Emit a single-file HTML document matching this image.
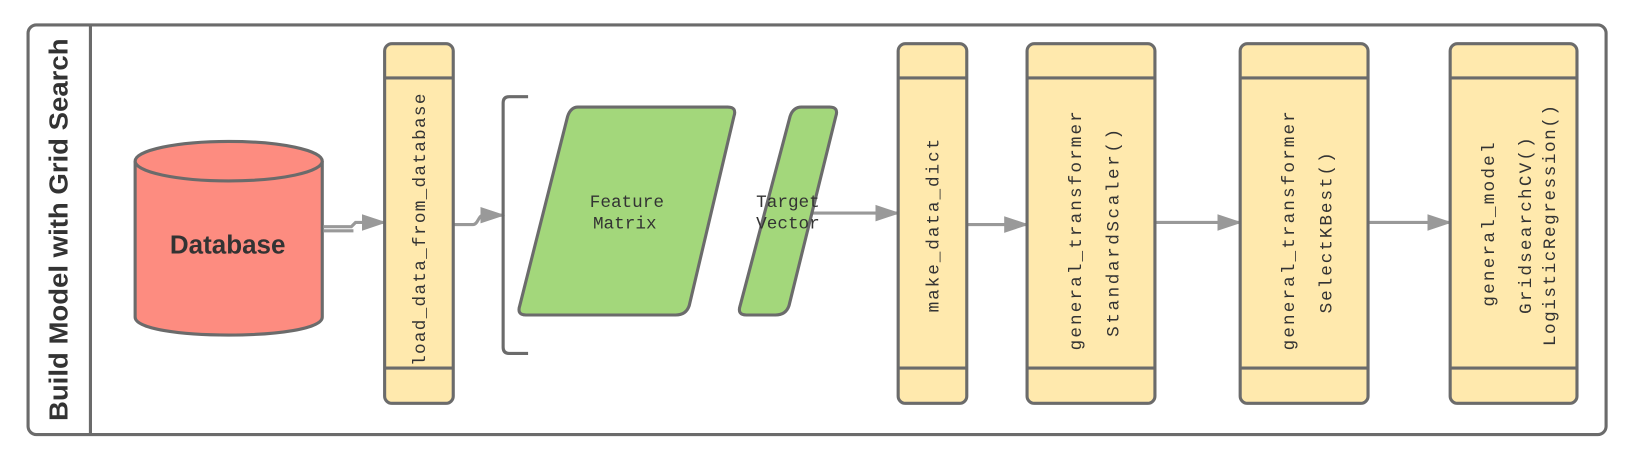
<!DOCTYPE html>
<html><head><meta charset="utf-8"><style>
html,body{margin:0;padding:0;background:#fff;}
svg{display:block;}
</style></head><body>
<svg width="1630" height="462" viewBox="0 0 1568 444.4" preserveAspectRatio="none" xmlns="http://www.w3.org/2000/svg">
<defs>
<marker id="ah" markerWidth="24" markerHeight="18" refX="22" refY="9" orient="auto" markerUnits="userSpaceOnUse">
<path d="M0,1 L24,9 L0,17 Z" fill="#999"/>
</marker>
</defs>
<g stroke="#6b6b6b" stroke-width="3" fill="none">
<rect x="27" y="24" width="1518" height="394" rx="8" fill="#fff"/>
<line x1="87" y1="24" x2="87" y2="418"/>
</g>
<text transform="translate(65,221) rotate(-90)" text-anchor="middle" font-family="Liberation Sans, sans-serif" font-weight="bold" font-size="25" fill="#333" textLength="368" lengthAdjust="spacingAndGlyphs">Build Model with Grid Search</text>

<!-- Database -->
<path d="M130,155 L130,305 C130,328 310,328 310,305 L310,155" fill="#fd8c80" stroke="#6b6b6b" stroke-width="3"/>
<ellipse cx="220" cy="155" rx="90" ry="19" fill="#fd8c80" stroke="#6b6b6b" stroke-width="3"/>
<text x="219" y="244" text-anchor="middle" font-family="Liberation Sans, sans-serif" font-weight="bold" font-size="25" fill="#333">Database</text>

<!-- arrows -->
<g stroke="#999" stroke-width="3" fill="none">
<path d="M311,218 L338,218 L342,214 L370,214" marker-end="url(#ah)"/>
<path d="M311,222 L340,222"/>
<path d="M437,216 L455,216 C460,216 460,207 465,207 L484,207" marker-end="url(#ah)"/>
<path d="M780,205 L864,205" marker-end="url(#ah)"/>
<path d="M931,216 L988,216" marker-end="url(#ah)"/>
<path d="M1112,214 L1193,214" marker-end="url(#ah)"/>
<path d="M1317,214 L1395,214" marker-end="url(#ah)"/>
</g>

<!-- boxes -->
<g stroke="#6b6b6b" stroke-width="3" fill="#ffe9ad">
<rect x="370" y="42" width="66" height="346" rx="7"/>
<line x1="370" y1="75" x2="436" y2="75"/><line x1="370" y1="354" x2="436" y2="354"/>
<rect x="864" y="42" width="66" height="346" rx="7"/>
<line x1="864" y1="75" x2="930" y2="75"/><line x1="864" y1="354" x2="930" y2="354"/>
<rect x="988" y="42" width="123" height="346" rx="7"/>
<line x1="988" y1="75" x2="1111" y2="75"/><line x1="988" y1="354" x2="1111" y2="354"/>
<rect x="1193" y="42" width="123" height="346" rx="7"/>
<line x1="1193" y1="75" x2="1316" y2="75"/><line x1="1193" y1="354" x2="1316" y2="354"/>
<rect x="1395" y="42" width="122" height="346" rx="7"/>
<line x1="1395" y1="75" x2="1517" y2="75"/><line x1="1395" y1="354" x2="1517" y2="354"/>
</g>

<!-- bracket -->
<path d="M508,93 L490,93 Q484,93 484,99 L484,334 Q484,340 490,340 L508,340" fill="none" stroke="#6b6b6b" stroke-width="3"/>

<!-- parallelograms -->
<path d="M556,103 L700,103 Q709,103 706,112 L663,294 Q660,303 650,303 L506,303 Q497,303 500,294 L546,112 Q549,103 556,103 Z" fill="#a3d77b" stroke="#6b6b6b" stroke-width="3"/>
<path d="M771,103 L798,103 Q807,103 804,112 L759,294 Q756,303 746,303 L718,303 Q709,303 712,294 L760,112 Q763,103 771,103 Z" fill="#a3d77b" stroke="#6b6b6b" stroke-width="3"/>

<g font-family="Liberation Mono, monospace" font-size="17" fill="#333" text-anchor="middle">
<text x="603" y="199">Feature</text>
<text x="601" y="220">Matrix</text>
<text x="758" y="199">Target</text>
<text x="758" y="220">Vector</text>
</g>

<g font-family="Liberation Mono, monospace" font-size="17" fill="#333" text-anchor="middle" lengthAdjust="spacingAndGlyphs">
<text transform="translate(409,221) rotate(-90)" textLength="262">load_data_from_database</text>
<text transform="translate(903,217) rotate(-90)" textLength="167">make_data_dict</text>
<text transform="translate(1040,222) rotate(-90)" textLength="230">general_transformer</text>
<text transform="translate(1076,224) rotate(-90)" textLength="200">StandardScaler()</text>
<text transform="translate(1245,222) rotate(-90)" textLength="230">general_transformer</text>
<text transform="translate(1281,224) rotate(-90)" textLength="155">SelectKBest()</text>
<text transform="translate(1437,216) rotate(-90)" textLength="158">general_model</text>
<text transform="translate(1473,217) rotate(-90)" textLength="170">GridsearchCV()</text>
<text transform="translate(1496,217) rotate(-90)" textLength="232">LogisticRegression()</text>
</g>
</svg>
</body></html>
